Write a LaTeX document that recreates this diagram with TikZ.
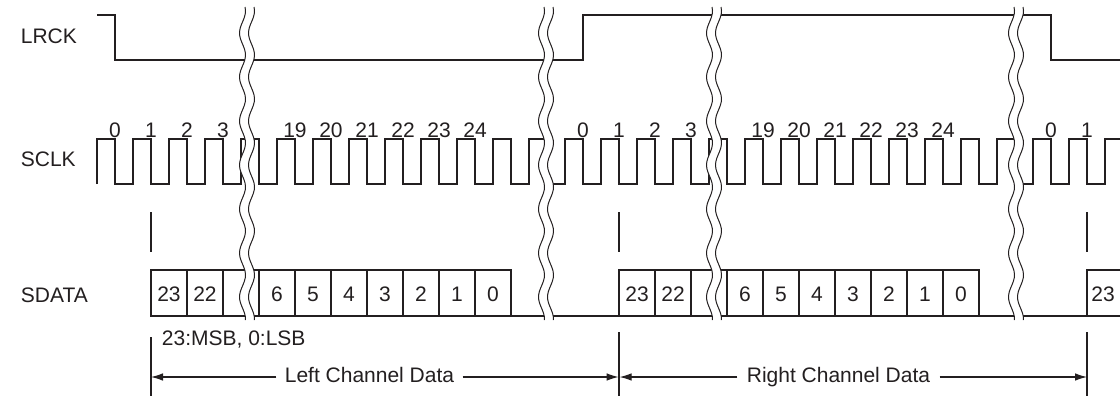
\documentclass[tikz,border=0pt]{standalone}
\usepackage{fontspec}
\setmainfont{Liberation Sans}
\usetikzlibrary{arrows.meta}
\definecolor{ink}{HTML}{231F20}
\begin{document}
\begin{tikzpicture}[x=0.5pt,y=-0.5pt,
  sig/.style={draw=ink, line width=1.35pt, line join=miter},
  dimln/.style={draw=ink, line width=0.55pt},
  brk/.style={draw=ink, line width=0.5pt},
  dimarr/.style={dimln, -{Latex[length=6pt,width=3.8pt]}},
  txt/.style={text=ink, font=\fontsize{10.5}{12}\selectfont, inner sep=0pt},
  num/.style={txt, anchor=base},
]
\useasboundingbox (0,0) rectangle (1120,396);

% signal names
\node[txt, anchor=base west] (lrck) at (20.5,43) {LRCK};
\node[txt, anchor=base west] (sclk) at (20.5,166) {SCLK};
\node[txt, anchor=base west] (sdata) at (20.5,302) {SDATA};

% LRCK
\draw[sig] (97,15) -- (115,15) -- (115,60) -- (583,60) -- (583,15) -- (1051,15) -- (1051,60) -- (1120,60);

% SCLK
\draw[sig] (97,184) foreach \k in {0,...,27} { -- ({97+36*\k},184) -- ({97+36*\k},139) -- ({115+36*\k},139) -- ({115+36*\k},184) } -- (1105,184) -- (1105,139) -- (1120,139);

% SCLK bit numbers
\foreach \x/\n [count=\i] in {115/0,151/1,187/2,223/3,295/19,331/20,367/21,403/22,439/23,475/24,
  583/0,619/1,655/2,691/3,763/19,799/20,835/21,871/22,907/23,943/24,1051/0,1087/1}
  \node[num, name=bit\i] at (\x,137) {\n};

% ticks between SCLK and SDATA
\draw[dimln] (151,212) -- (151,252);
\draw[dimln] (619,212) -- (619,252);
\draw[dimln] (1087,212) -- (1087,252);

% SDATA
\draw[sig] (151,316) -- (1120,316);
\draw[sig] (151,270) rectangle (511,316);
\foreach \x in {187,223,...,475} \draw[sig] (\x,270) -- (\x,316);
\draw[sig] (619,270) rectangle (979,316);
\foreach \x in {655,691,...,943} \draw[sig] (\x,270) -- (\x,316);
\draw[sig] (1120,270) -- (1087,270) -- (1087,316);

\foreach \x/\n [count=\i] in {169/23,205/22,277/6,313/5,349/4,385/3,421/2,457/1,493/0,
  637/23,673/22,745/6,781/5,817/4,853/3,889/2,925/1,961/0,1103/23}
  \node[num, name=dat\i] at (\x,301.5) {\n};

% breaks
\foreach \c in {247,546,714,1016} {
  \fill[white] plot[variable=\yy, domain=7:320, samples=90] ({\c-4.5+3*sin(8.1818*\yy)}, \yy)
    -- plot[variable=\yy, domain=320:7, samples=90] ({\c+4.5+3*sin(8.1818*\yy)}, \yy) -- cycle;
  \draw[brk] plot[variable=\yy, domain=7:320, samples=90] ({\c-4.5+3*sin(8.1818*\yy)}, \yy);
  \draw[brk] plot[variable=\yy, domain=7:320, samples=90] ({\c+4.5+3*sin(8.1818*\yy)}, \yy);
}

% dimension lines
\draw[dimln] (151,337) -- (151,396);
\draw[dimln] (619,332) -- (619,396);
\draw[dimln] (1087,332) -- (1087,396);

\node[txt, anchor=base west] (msb) at (161.5,345) {23:MSB, 0:LSB};
\node[txt, anchor=base, inner xsep=4pt] (lcd) at (369.5,382) {Left Channel Data};
\node[txt, anchor=base, inner xsep=4.5pt] (rcd) at (838.5,382) {Right Channel Data};

\coordinate (L1) at (151,377);
\coordinate (L2) at (618.6,377);
\coordinate (R1) at (619.6,377);
\coordinate (R2) at (1087,377);
\draw[dimarr] (lcd.west |- L1) -- (L1);
\draw[dimarr] (lcd.east |- L1) -- (L2);
\draw[dimarr] (rcd.west |- L1) -- (R1);
\draw[dimarr] (rcd.east |- L1) -- (R2);
\end{tikzpicture}
\end{document}
